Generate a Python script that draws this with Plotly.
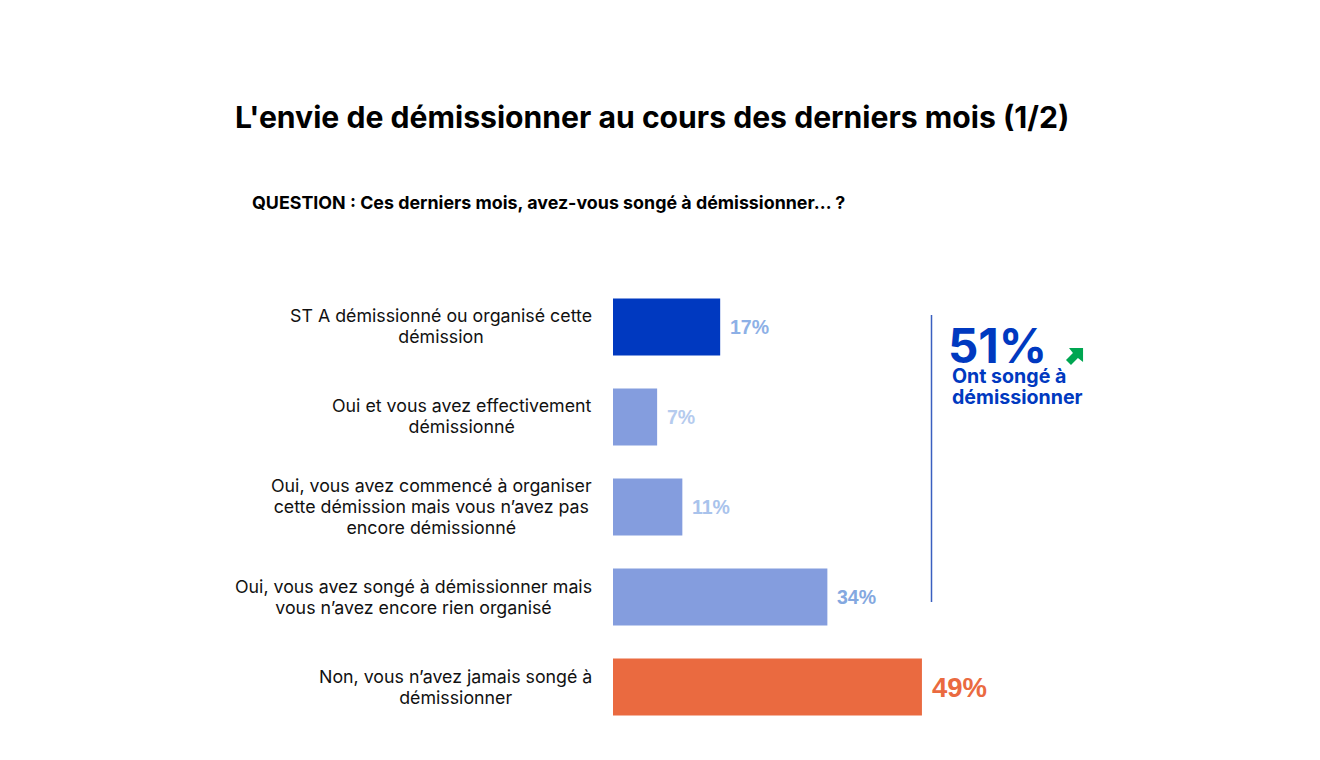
import plotly.graph_objects as go

# the page keeps its 8px body margin, so the figure is that much smaller
W, H = 1312, 752
OFFSET = 8

categories = [
    "ST A démissionné ou organisé cette<br>démission",
    "Oui et vous avez effectivement<br>démissionné",
    "Oui, vous avez commencé à organiser<br>cette démission mais vous n’avez pas<br>encore démissionné",
    "Oui, vous avez songé à démissionner mais<br>vous n’avez encore rien organisé",
    "Non, vous n’avez jamais songé à<br>démissionner",
]
values = [17, 7, 11, 34, 49]
bar_colors = ["#0039C0", "#849DDE", "#849DDE", "#849DDE", "#EA6A40"]
label_colors = ["#8DB0E6", "#B5CBEE", "#A9C3EC", "#84A8E0", "#EA6A40"]
label_sizes = [19.5, 19.5, 19.5, 19.5, 27.5]

FONT = "Inter"
DARK_BLUE = "#0039C0"
LINE_BASE = 16.2  # plotly sets line spacing from the base size


def px(x):
    return (x - OFFSET) / W


def py(y):
    return 1 - (y - OFFSET) / H


def sized(text, size):
    return "<br>".join(f'<span style="font-size:{size}px">{t}</span>' for t in text.split("<br>"))


fig = go.Figure(go.Bar(
    x=values,
    y=categories,
    orientation="h",
    width=0.635,
    marker=dict(color=bar_colors, line=dict(width=0)),
    hoverinfo="skip",
))

# category labels are centred per line, so annotations rather than tick labels
for cat in categories:
    fig.add_annotation(
        x=0, y=cat, xref="x", yref="y", text=sized(cat, 17.8), showarrow=False,
        xanchor="right", xshift=-19.5, yshift=0.5, align="center",
        font=dict(family=FONT, size=LINE_BASE, color="#111111"),
    )

for cat, val, col, size in zip(categories, values, label_colors, label_sizes):
    fig.add_annotation(
        x=val, y=cat, xref="x", yref="y", text=f"<b>{val}%</b>", showarrow=False,
        xanchor="left", xshift=8,
        font=dict(family="Liberation Sans", size=size, color=col),
    )

fig.add_annotation(
    x=px(651.5), y=py(117), xref="paper", yref="paper", text="L'envie de démissionner au cours des derniers mois (1/2)",
    showarrow=False, xanchor="center", yanchor="middle",
    font=dict(family=FONT, size=30.15, color="black", weight=700),
)
fig.add_annotation(
    x=px(250), y=py(202), xref="paper", yref="paper", text="QUESTION : Ces derniers mois, avez-vous songé à démissionner… ?",
    showarrow=False, xanchor="left", yanchor="middle",
    font=dict(family=FONT, size=17.85, color="black", weight=700),
)
fig.add_annotation(
    x=px(946), y=py(345), xref="paper", yref="paper", text="51%",
    showarrow=False, xanchor="left", yanchor="middle",
    font=dict(family=FONT, size=47.5, color=DARK_BLUE, weight=700),
)
fig.add_annotation(
    x=px(950), y=py(386), xref="paper", yref="paper", text=sized("Ont songé à<br>démissionner", 19.6),
    showarrow=False, xanchor="left", yanchor="middle", align="left",
    font=dict(family=FONT, size=LINE_BASE, color=DARK_BLUE, weight=700),
)

# bracket line
fig.add_shape(
    type="line", xref="paper", yref="paper",
    x0=px(931.5), x1=px(931.5), y0=py(315), y1=py(602),
    line=dict(color="#3A5FC0", width=1.5),
)

# green arrow
arrow = [(1083, 348), (1083, 362), (1078, 358), (1071, 365), (1066, 360), (1073, 353), (1069, 348)]
path = "M " + " L ".join(f"{px(x):.4f},{py(y):.4f}" for x, y in arrow) + " Z"
fig.add_shape(type="path", xref="paper", yref="paper", path=path,
              fillcolor="#00A651", line=dict(width=0))

fig.update_layout(
    width=W,
    height=H,
    margin=dict(l=0, r=0, t=0, b=0),
    paper_bgcolor="white",
    plot_bgcolor="white",
    showlegend=False,
    xaxis=dict(domain=[px(613), 1], range=[0, 707 / 6.305], visible=False),
    yaxis=dict(domain=[py(732), py(282)], autorange="reversed", showticklabels=False,
               showgrid=False, zeroline=False, showline=False, ticks=""),
)

fig.write_html("out.html")
